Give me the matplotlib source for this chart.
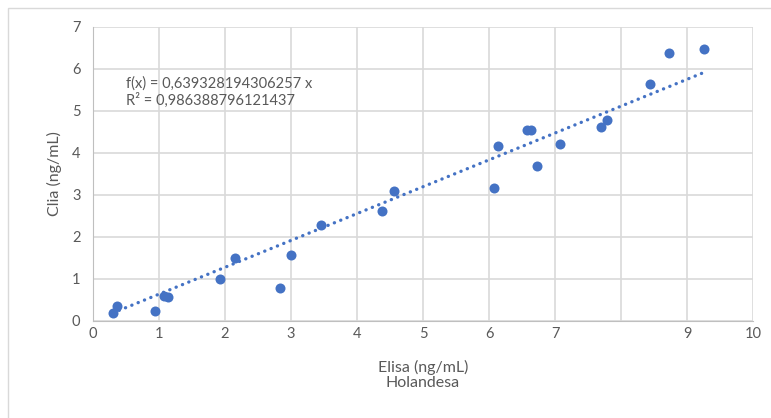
import matplotlib
matplotlib.use("Agg")
import matplotlib.pyplot as plt
from matplotlib.patches import Rectangle
import numpy as np

INK2 = "#595959"; GRID = "#d9d9d9"; AXIS = "#bfbfbf"; BLUE = "#4472c4"

plt.rcParams.update({"font.family": ["Lato", "DejaVu Sans"], "font.size": 10})

# Elisa (x) vs Clia (y), ng/mL
elisa = [0.30, 0.36, 0.94, 1.08, 1.14, 1.92, 2.15, 2.83, 3.00, 3.45, 4.38, 4.56,
         6.08, 6.13, 6.57, 6.63, 6.72, 7.07, 7.70, 7.79, 8.44, 8.72, 9.25]
clia = [0.20, 0.36, 0.25, 0.59, 0.57, 1.01, 1.50, 0.78, 1.57, 2.28, 2.62, 3.10,
        3.17, 4.16, 4.55, 4.55, 3.69, 4.21, 4.63, 4.79, 5.65, 6.38, 6.48]
slope = 0.639328194306257
r2 = 0.986388796121437
xticks = [0, 1, 2, 3, 4, 5, 6, 7, 8, 9, 10]
xticklabels = ["0", "1", "2", "3", "4", "5", "6", "7", "", "9", "10"]
yticks = [0, 1, 2, 3, 4, 5, 6, 7]

fig = plt.figure(figsize=(7.71, 4.18), dpi=100)
fig.patches.append(Rectangle((8 / 771, -0.1), 1.2, 1 - 8 / 418 + 0.1, transform=fig.transFigure,
                             fill=False, edgecolor=GRID, lw=1))
ax = fig.add_axes([93 / 771, 1 - 321 / 418, 660 / 771, 294 / 418])

ax.scatter(elisa, clia, s=52, color=BLUE, zorder=3, linewidths=0)
xs = np.array([min(elisa), max(elisa)])
ax.plot(xs, slope * xs, color=BLUE, lw=2.4, linestyle=(0, (0.05, 2.0)),
        dash_capstyle="round", zorder=2)

ax.set_xlim(0, 10); ax.set_ylim(0, 7)
ax.set_xticks(xticks); ax.set_xticklabels(xticklabels)
ax.set_yticks(yticks)
ax.tick_params(length=0, colors=INK2, labelsize=10.5)
ax.tick_params(axis="x", pad=4); ax.tick_params(axis="y", pad=9)
ax.grid(True, color=GRID, lw=1.2, zorder=0)
ax.set_axisbelow(True)
for s in ["top", "right"]:
    ax.spines[s].set_visible(False)
ax.spines["bottom"].set_color(AXIS); ax.spines["left"].set_color(AXIS)

ax.set_xlabel("Elisa (ng/mL)\nHolandesa", color=INK2, fontsize=11.5, labelpad=14, linespacing=1.05)
ax.set_ylabel("Clia (ng/mL)", color=INK2, fontsize=11.5, labelpad=7)

ax.text(0.505, 5.55, f"f(x) = {slope:.15f} x".replace(".", ","), color=INK2, fontsize=10.5)
ax.text(0.505, 5.15, f"R² = {r2:.15f}".replace(".", ","), color=INK2, fontsize=10.5)

fig.savefig("out.png", facecolor="white")
